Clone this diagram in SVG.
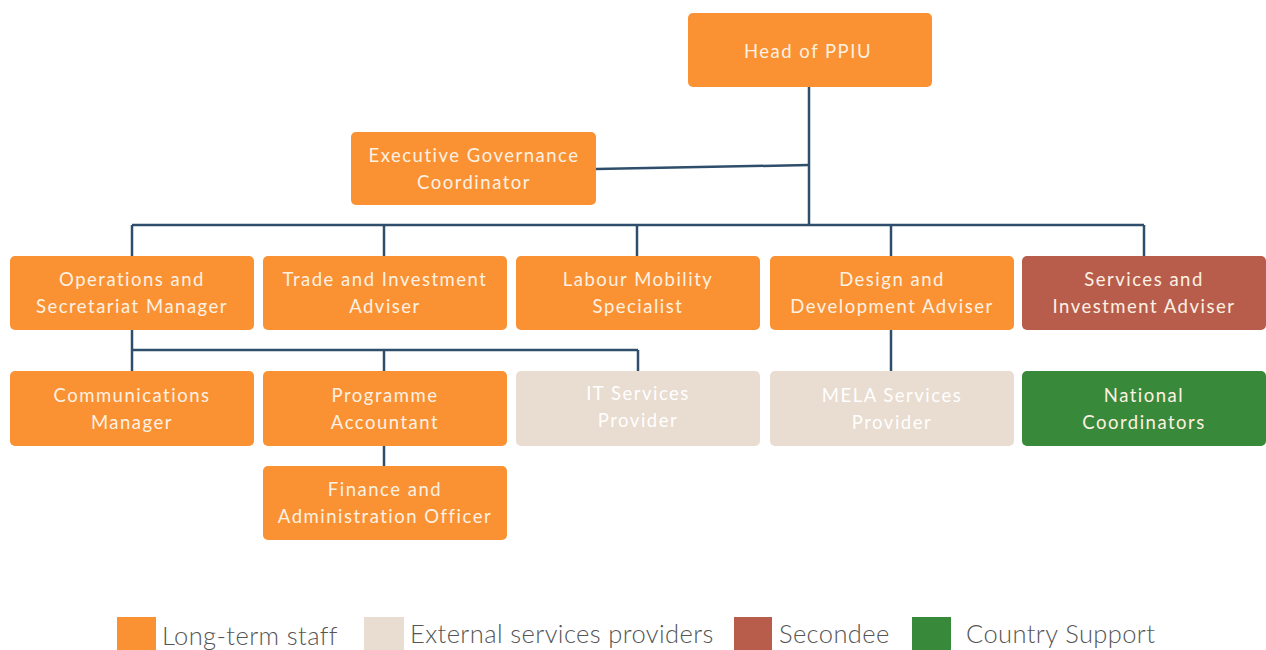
<svg xmlns="http://www.w3.org/2000/svg" width="1266" height="650" viewBox="0 0 1266 650">
  <style>
    .box { stroke: none; }
    .staff { fill: #FA9233; }
    .ext { fill: #E9DCD0; }
    .sec { fill: #B85D4B; }
    .cty { fill: #388A3A; }
    .lbl { font-family: "Lato", "Liberation Sans", sans-serif; font-size: 18.5px; letter-spacing: 1.5px; fill: #FDF1E3; text-anchor: middle; }
    .lbl-ext { fill: #FFFFFF; }
    .conn { stroke: #2F4E6B; stroke-width: 2.5; fill: none; }
    .key { font-family: "Lato", "Liberation Sans", sans-serif; font-size: 25.5px; font-weight: 300; letter-spacing: 0.4px; fill: #555555; }
  </style>
  <rect width="1266" height="650" fill="#FFFFFF"/>

  <g id="connectors">
    <path class="conn" d="M809 87 V225"/>
    <path class="conn" d="M596 169 L809 165"/>
    <path class="conn" d="M132 225 H1144"/>
    <path class="conn" d="M132 225 V256 M384 225 V256 M637 225 V256 M891 225 V256 M1144 225 V256"/>
    <path class="conn" d="M132 330 V350 H638 M132 350 V371 M384 350 V371 M638 350 V371"/>
    <path class="conn" d="M891 330 V371"/>
    <path class="conn" d="M384 446 V466"/>
  </g>

  <g id="head">
    <rect class="box staff" x="688" y="13" width="244" height="74" rx="5"/>
    <text class="lbl" x="808" y="58">Head of PPIU</text>
  </g>
  <g id="exec-gov">
    <rect class="box staff" x="351" y="132" width="245" height="73" rx="5"/>
    <text class="lbl" x="474" y="162">Executive Governance</text>
    <text class="lbl" x="474" y="189">Coordinator</text>
  </g>

  <g id="operations">
    <rect class="box staff" x="10" y="256" width="244" height="74" rx="5"/>
    <text class="lbl" x="132" y="286">Operations and</text>
    <text class="lbl" x="132" y="313">Secretariat Manager</text>
  </g>
  <g id="trade">
    <rect class="box staff" x="263" y="256" width="244" height="74" rx="5"/>
    <text class="lbl" x="385" y="286">Trade and Investment</text>
    <text class="lbl" x="385" y="313">Adviser</text>
  </g>
  <g id="labour">
    <rect class="box staff" x="516" y="256" width="244" height="74" rx="5"/>
    <text class="lbl" x="638" y="286">Labour Mobility</text>
    <text class="lbl" x="638" y="313">Specialist</text>
  </g>
  <g id="design">
    <rect class="box staff" x="770" y="256" width="244" height="74" rx="5"/>
    <text class="lbl" x="892" y="286">Design and</text>
    <text class="lbl" x="892" y="313">Development Adviser</text>
  </g>
  <g id="services-investment">
    <rect class="box sec" x="1022" y="256" width="244" height="74" rx="5"/>
    <text class="lbl" x="1144" y="286">Services and</text>
    <text class="lbl" x="1144" y="313">Investment Adviser</text>
  </g>

  <g id="communications">
    <rect class="box staff" x="10" y="371" width="244" height="75" rx="5"/>
    <text class="lbl" x="132" y="402">Communications</text>
    <text class="lbl" x="132" y="429">Manager</text>
  </g>
  <g id="programme">
    <rect class="box staff" x="263" y="371" width="244" height="75" rx="5"/>
    <text class="lbl" x="385" y="402">Programme</text>
    <text class="lbl" x="385" y="429">Accountant</text>
  </g>
  <g id="it-services">
    <rect class="box ext" x="516" y="371" width="244" height="75" rx="5"/>
    <text class="lbl lbl-ext" x="638" y="400">IT Services</text>
    <text class="lbl lbl-ext" x="638" y="427">Provider</text>
  </g>
  <g id="mela-services">
    <rect class="box ext" x="770" y="371" width="244" height="75" rx="5"/>
    <text class="lbl lbl-ext" x="892" y="402">MELA Services</text>
    <text class="lbl lbl-ext" x="892" y="429">Provider</text>
  </g>
  <g id="national">
    <rect class="box cty" x="1022" y="371" width="244" height="75" rx="5"/>
    <text class="lbl" x="1144" y="402">National</text>
    <text class="lbl" x="1144" y="429">Coordinators</text>
  </g>

  <g id="finance">
    <rect class="box staff" x="263" y="466" width="244" height="74" rx="5"/>
    <text class="lbl" x="385" y="496">Finance and</text>
    <text class="lbl" x="385" y="523">Administration Officer</text>
  </g>

  <g id="legend">
    <rect class="staff" x="117" y="617" width="39" height="40"/>
    <text class="key" x="162" y="645">Long-term staff</text>
    <rect class="ext" x="364" y="617" width="40" height="40"/>
    <text class="key" x="410" y="643">External services providers</text>
    <rect class="sec" x="734" y="617" width="38" height="40"/>
    <text class="key" x="779" y="643">Secondee</text>
    <rect class="cty" x="912" y="617" width="39" height="40"/>
    <text class="key" x="966" y="643">Country Support</text>
  </g>
</svg>
